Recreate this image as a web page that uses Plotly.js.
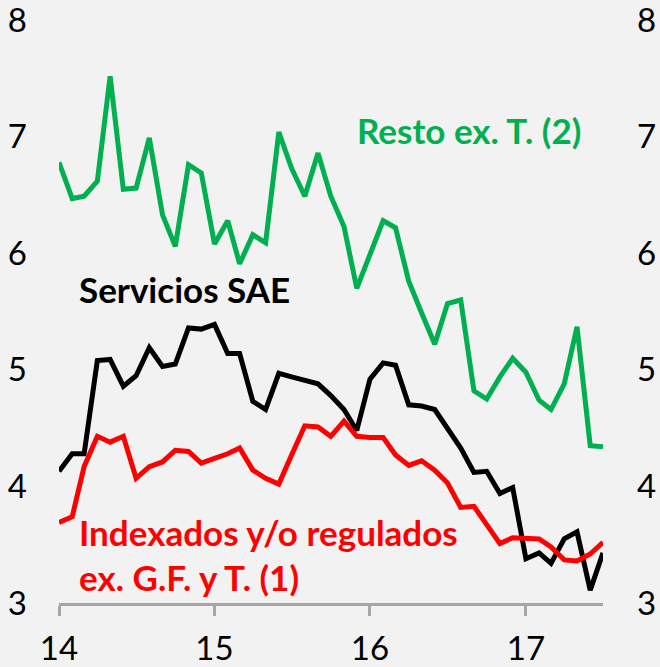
<!DOCTYPE html>
<html>
<head>
<meta charset="utf-8">
<script src="https://cdn.plot.ly/plotly-3.0.1.min.js"></script>
<style>html,body{margin:0;padding:0;background:#f2f2f2;}#chart{width:660px;height:667px;}</style>
</head>
<body>
<div id="chart"></div>
<script>
// Monthly observations, Jan 2014 .. Jul 2017
const startYear = 2014, nMonths = 43;
const months = [];
for (let i = 0; i < nMonths; i++) {
  const y = startYear + Math.floor(i / 12), m = (i % 12) + 1;
  months.push(y + '-' + (m < 10 ? '0' + m : m) + '-01');
}
const resto = [6.78,6.47,6.49,6.62,7.52,6.55,6.56,6.99,6.33,6.06,6.76,6.69,
  6.08,6.28,5.91,6.16,6.09,7.04,6.73,6.49,6.86,6.49,6.23,5.70,
  5.99,6.28,6.22,5.76,5.49,5.22,5.57,5.60,4.82,4.75,4.94,5.10,
  4.98,4.74,4.66,4.88,5.37,4.35,4.34];
const servicios = [4.13,4.28,4.28,5.08,5.09,4.86,4.95,5.19,5.03,5.05,5.36,5.35,
  5.39,5.14,5.14,4.73,4.66,4.97,4.94,4.91,4.88,4.78,4.66,4.48,
  4.92,5.06,5.04,4.70,4.69,4.66,4.49,4.33,4.12,4.13,3.94,3.99,
  3.38,3.43,3.34,3.55,3.61,3.11,3.43];
const indexados = [3.69,3.74,4.17,4.43,4.38,4.43,4.07,4.17,4.21,4.31,4.30,4.20,
  4.24,4.28,4.33,4.14,4.07,4.02,4.27,4.52,4.51,4.43,4.56,4.43,
  4.42,4.42,4.27,4.18,4.22,4.14,4.03,3.82,3.83,3.68,3.51,3.56,
  3.55,3.55,3.48,3.37,3.36,3.42,3.52];
const tickVals = ['2014-01-01','2015-01-01','2016-01-01','2017-01-01'];
const tickText = ['14','15','16','17'];
const yTicks = [3,4,5,6,7,8];
const labels = {
  resto: 'Resto ex. T. (2)',
  servicios: 'Servicios SAE',
  indexados1: 'Indexados y/o regulados',
  indexados2: 'ex. G.F. y T. (1)'
};

const FONT = 'Lato, "Open Sans", sans-serif';
const TICKSIZE = 33, ANNSIZE = 35;
const traces = [
  {x: months, y: resto, type: 'scatter', mode: 'lines', line: {color: '#00b050', width: 5}, hoverinfo: 'skip'},
  {x: months, y: servicios, type: 'scatter', mode: 'lines', line: {color: '#000000', width: 5}, hoverinfo: 'skip'},
  {x: months, y: indexados, type: 'scatter', mode: 'lines', line: {color: '#ff0000', width: 5}, hoverinfo: 'skip'},
  {x: [months[0]], y: [3], yaxis: 'y2', type: 'scatter', mode: 'markers', marker: {opacity: 0}, hoverinfo: 'skip'}
];
const layout = {
  width: 660, height: 667,
  margin: {l: 59, r: 57, t: 20, b: 64},
  paper_bgcolor: '#f2f2f2', plot_bgcolor: '#f2f2f2',
  showlegend: false,
  font: {family: FONT, color: '#000'},
  xaxis: {
    type: 'date', range: [months[0], months[nMonths - 1]],
    tickvals: tickVals, ticktext: tickText,
    showgrid: false, zeroline: false,
    showline: true, linecolor: '#a6a6a6', linewidth: 3,
    ticks: 'outside', ticklen: 10, tickwidth: 3, tickcolor: '#a6a6a6',
    ticklabelstandoff: 4, ticklabeloverflow: 'allow',
    tickfont: {family: FONT, size: TICKSIZE, color: '#000'}
  },
  yaxis: {
    range: [3, 8.002], tickvals: yTicks, showgrid: false, zeroline: false, showline: false,
    ticks: '', ticklabelstandoff: 31, ticklabeloverflow: 'allow',
    tickfont: {family: FONT, size: TICKSIZE, color: '#000'}
  },
  yaxis2: {
    range: [3, 8.002], tickvals: yTicks, overlaying: 'y', side: 'right',
    showgrid: false, zeroline: false, showline: false, ticks: '', ticklabelstandoff: 33,
    ticklabeloverflow: 'allow',
    tickfont: {family: FONT, size: TICKSIZE, color: '#000'}
  },
  annotations: [
    {text: '<b>' + labels.resto + '</b>', xref: 'paper', yref: 'paper', x: 0.545, y: 0.811, xanchor: 'left', yanchor: 'middle', showarrow: false, font: {family: FONT, size: ANNSIZE, color: '#00b050'}},
    {text: '<b>' + labels.servicios + '</b>', xref: 'paper', yref: 'paper', x: 0.033, y: 0.538, xanchor: 'left', yanchor: 'middle', showarrow: false, font: {family: FONT, size: ANNSIZE, color: '#000'}},
    {text: '<b>' + labels.indexados1 + '</b>', xref: 'paper', yref: 'paper', x: 0.033, y: 0.121, xanchor: 'left', yanchor: 'middle', showarrow: false, font: {family: FONT, size: ANNSIZE, color: '#ff0000'}},
    {text: '<b>' + labels.indexados2 + '</b>', xref: 'paper', yref: 'paper', x: 0.033, y: 0.045, xanchor: 'left', yanchor: 'middle', showarrow: false, font: {family: FONT, size: ANNSIZE, color: '#ff0000'}}
  ]
};
Plotly.newPlot('chart', traces, layout, {displayModeBar: false, staticPlot: true});
</script>
</body>
</html>
